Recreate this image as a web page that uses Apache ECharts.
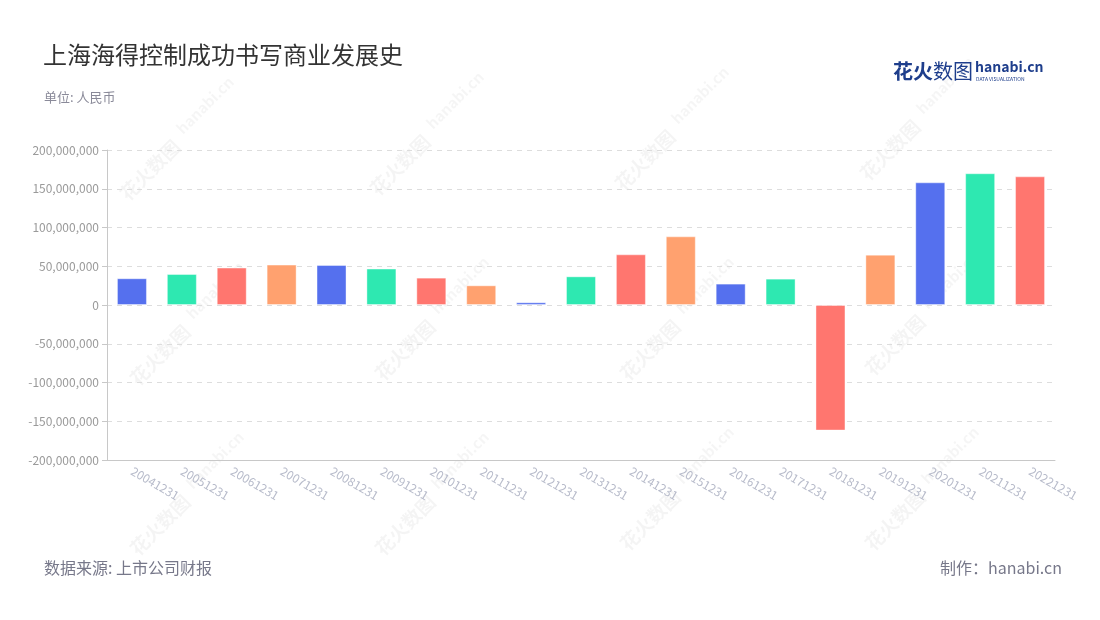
<!DOCTYPE html>
<html><head><meta charset="utf-8">
<script src="https://cdn.jsdelivr.net/npm/echarts@6/dist/echarts.min.js"></script>
<style>html,body{margin:0;padding:0;background:#fff}#c{width:1100px;height:620px}</style>
</head><body><div id="c"></div>
<script>
const categories = ['20041231','20051231','20061231','20071231','20081231','20091231','20101231','20111231','20121231','20131231','20141231','20151231','20161231','20171231','20181231','20191231','20201231','20211231','20221231'];
const profits = [34500000, 40000000, 48300000, 52100000, 51600000, 47000000, 35300000, 25400000, 3500000, 37000000, 65400000, 88600000, 27600000, 34000000, -162000000, 65000000, 158300000, 170000000, 166000000];
const palette = ['#5570ee', '#2ee8b1', '#ff766f', '#ffa16f'];
const yTicks = { min: -200000000, max: 200000000, interval: 50000000 };

const FONT = '"Noto Sans CJK SC","Noto Sans",sans-serif';
const chart = echarts.init(document.getElementById('c'));

const watermarks = [];
const wmPos = [[150,170],[400,165],[645,160],[890,150],[160,355],[405,350],[650,350],[895,345],[160,525],[405,525],[650,520],[895,520]];
wmPos.forEach(p => {
  watermarks.push({type:'text', x:p[0], y:p[1], rotation: Math.PI/4, silent:true, z:0,
    style:{text:'花火数图', font:'bold 19px ' + FONT, fill:'rgba(0,0,0,0.045)', textAlign:'center', textVerticalAlign:'middle'}});
  watermarks.push({type:'text', x:p[0]+55, y:p[1]-65, rotation: Math.PI/4, silent:true, z:0,
    style:{text:'hanabi.cn', font:'bold 15px ' + FONT, fill:'rgba(0,0,0,0.04)', textAlign:'center', textVerticalAlign:'middle'}});
});

chart.setOption({
  backgroundColor: '#fff',
  animation: false,
  title: [
    { text: '上海海得控制成功书写商业发展史', left: 38, top: 38, textStyle: { fontFamily: FONT, fontSize: 24, fontWeight: 'normal', color: '#333' } },
    { text: '单位: 人民币', left: 39, top: 86, textStyle: { fontFamily: FONT, fontSize: 13, fontWeight: 'normal', color: '#8a8a99' } },
    { text: '数据来源: 上市公司财报', left: 39, top: 555, textStyle: { fontFamily: FONT, fontSize: 16, fontWeight: 'normal', color: '#77788a' } },
    { text: '制作：hanabi.cn', right: 33, top: 555, textStyle: { fontFamily: FONT, fontSize: 16, fontWeight: 'normal', color: '#77788a' } }
  ],
  graphic: watermarks.concat([
    { type: 'text', left: 893, top: 61, style: { text: '花火', font: 'bold 20px ' + FONT, fill: '#1e3e8c' } },
    { type: 'text', left: 933, top: 61, style: { text: '数图', font: '20px ' + FONT, fill: '#1e3e8c' } },
    { type: 'text', left: 975, top: 60, style: { text: 'hanabi.cn', font: 'bold 14px ' + FONT, fill: '#1e3e8c' } },
    { type: 'text', left: 976, top: 77, style: { text: 'DATA VISUALIZATION', font: '5px ' + FONT, fill: '#1e3e8c' } }
  ]),
  grid: { left: 107, right: 45, top: 150, bottom: 160, containLabel: false },
  xAxis: {
    type: 'category',
    data: categories,
    axisLine: { onZero: false, lineStyle: { color: '#c8c8c8' } },
    axisTick: { alignWithLabel: true, lineStyle: { color: '#c8c8c8' } },
    axisLabel: { rotate: -30, color: '#b8bccb', fontSize: 12, fontFamily: FONT, interval: 0, margin: 10 }
  },
  yAxis: {
    type: 'value',
    min: yTicks.min, max: yTicks.max, interval: yTicks.interval,
    axisLine: { show: true, lineStyle: { color: '#c8c8c8' } },
    axisTick: { show: true, lineStyle: { color: '#c8c8c8' } },
    splitLine: { lineStyle: { color: '#dddddd', type: [5, 5] } },
    axisLabel: { color: '#9a9a9a', fontSize: 12, fontFamily: FONT, formatter: v => v.toLocaleString('en-US') }
  },
  series: [{
    type: 'bar',
    barWidth: 30,
    data: profits.map((v, i) => ({ value: v, itemStyle: { color: palette[i % 4] } })),
    itemStyle: { borderColor: 'rgba(255,255,255,0.4)', borderWidth: 1 },
    z: 3
  }]
});
</script></body></html>
